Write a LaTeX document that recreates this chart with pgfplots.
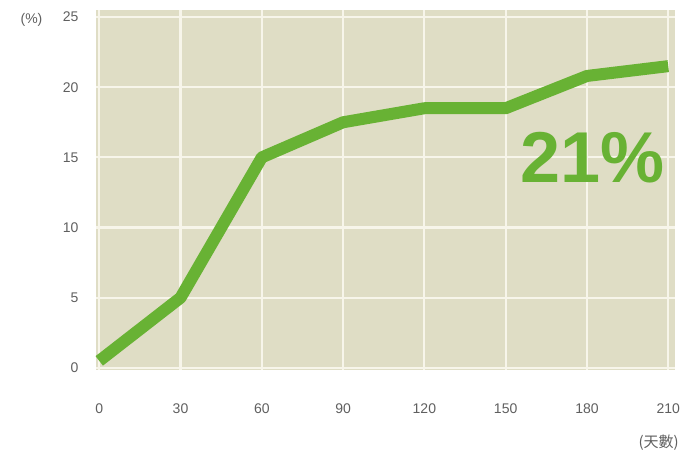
\documentclass[border=0pt]{standalone}
\usepackage{pgfplots}
\pgfplotsset{compat=1.18}
\usepackage{fontspec}
\setmainfont{Liberation Sans}
\newfontfamily\cjk{Noto Sans CJK TC}
\definecolor{bg}{RGB}{223,221,197}
\definecolor{gridc}{RGB}{247,245,234}
\definecolor{lgreen}{RGB}{104,178,52}
\definecolor{tickc}{RGB}{95,95,95}
\begin{document}
\begin{tikzpicture}[x=1pt,y=1pt]
\path[use as bounding box] (0,0) rectangle (688,452);
\begin{axis}[
  at={(96pt,82pt)}, anchor=south west,
  scale only axis, width=579pt, height=360pt,
  xmin=-1.2, xmax=212.5, ymin=-0.15, ymax=25.5,
  axis background/.style={fill=bg},
  axis line style={draw=none},
  xtick={0,30,...,210}, ytick={0,5,...,25},
  major tick length=0pt,
  grid=major, grid style={gridc, line width=2.2pt},
  tick label style={font=\fontsize{14}{15}\selectfont, text=tickc},
  /pgf/number format/assume math mode=true,
  xticklabel style={yshift=-30pt},
  yticklabel style={xshift=-14pt},
  clip=false,
]
\addplot[lgreen, line width=12pt, line join=round] coordinates {
 (0,0.5) (30,5) (60,15) (90,17.5) (120,18.5) (150,18.5) (180,20.8) (210,21.5)
};
\node[font=\bfseries\fontsize{72}{74}\selectfont, text=lgreen] at (axis cs:182.1,15.0) {21\%};
\node[font=\fontsize{14}{15}\selectfont, text=tickc] at (axis cs:-25,24.8) {(\%)};
\node[font=\cjk\fontsize{15}{16}\selectfont, text=tickc] at (axis cs:206.5,-5.3) {(天數)};
\end{axis}
\end{tikzpicture}
\end{document}
